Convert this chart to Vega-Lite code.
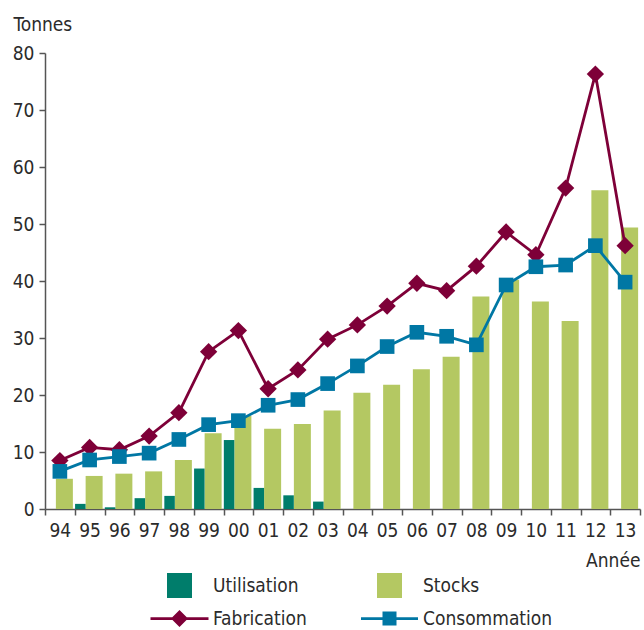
{
  "$schema": "https://vega.github.io/schema/vega-lite/v6.json",
  "width": 595,
  "height": 456,
  "autosize": {"type": "none"},
  "padding": {"left": 45, "top": 53, "right": 4, "bottom": 121},
  "background": "white",
  "config": {
    "view": {"stroke": null},
    "font": "DejaVu Sans Condensed",
    "axis": {
      "labelFont": "DejaVu Sans Condensed",
      "titleFont": "DejaVu Sans Condensed",
      "labelFontSize": 19,
      "titleFontSize": 19,
      "titleFontWeight": "normal",
      "labelColor": "#2b2b2b",
      "titleColor": "#2b2b2b",
      "domainColor": "#555555",
      "tickColor": "#555555",
      "domainWidth": 1.5,
      "tickWidth": 1.5,
      "grid": false
    },
    "legend": {
      "labelFont": "DejaVu Sans Condensed",
      "labelFontSize": 19,
      "labelColor": "#2b2b2b"
    }
  },
  "data": {
    "values": [
      {"year": "94", "series": "Stocks", "value": 5.3},
      {"year": "95", "series": "Stocks", "value": 5.8},
      {"year": "96", "series": "Stocks", "value": 6.2},
      {"year": "97", "series": "Stocks", "value": 6.6},
      {"year": "98", "series": "Stocks", "value": 8.6},
      {"year": "99", "series": "Stocks", "value": 13.3},
      {"year": "00", "series": "Stocks", "value": 16.3},
      {"year": "01", "series": "Stocks", "value": 14.1},
      {"year": "02", "series": "Stocks", "value": 14.9},
      {"year": "03", "series": "Stocks", "value": 17.3},
      {"year": "04", "series": "Stocks", "value": 20.4},
      {"year": "05", "series": "Stocks", "value": 21.8},
      {"year": "06", "series": "Stocks", "value": 24.5},
      {"year": "07", "series": "Stocks", "value": 26.7},
      {"year": "08", "series": "Stocks", "value": 37.3},
      {"year": "09", "series": "Stocks", "value": 40.2},
      {"year": "10", "series": "Stocks", "value": 36.4},
      {"year": "11", "series": "Stocks", "value": 33.0},
      {"year": "12", "series": "Stocks", "value": 55.9},
      {"year": "13", "series": "Stocks", "value": 49.4},
      {"year": "95", "series": "Utilisation", "value": 0.9},
      {"year": "96", "series": "Utilisation", "value": 0.3},
      {"year": "97", "series": "Utilisation", "value": 1.9},
      {"year": "98", "series": "Utilisation", "value": 2.3},
      {"year": "99", "series": "Utilisation", "value": 7.1},
      {"year": "00", "series": "Utilisation", "value": 12.1},
      {"year": "01", "series": "Utilisation", "value": 3.7},
      {"year": "02", "series": "Utilisation", "value": 2.4},
      {"year": "03", "series": "Utilisation", "value": 1.3},
      {"year": "94", "series": "Fabrication", "value": 8.5},
      {"year": "95", "series": "Fabrication", "value": 10.8},
      {"year": "96", "series": "Fabrication", "value": 10.4},
      {"year": "97", "series": "Fabrication", "value": 12.8},
      {"year": "98", "series": "Fabrication", "value": 16.9},
      {"year": "99", "series": "Fabrication", "value": 27.6},
      {"year": "00", "series": "Fabrication", "value": 31.3},
      {"year": "01", "series": "Fabrication", "value": 21.1},
      {"year": "02", "series": "Fabrication", "value": 24.4},
      {"year": "03", "series": "Fabrication", "value": 29.8},
      {"year": "04", "series": "Fabrication", "value": 32.3},
      {"year": "05", "series": "Fabrication", "value": 35.6},
      {"year": "06", "series": "Fabrication", "value": 39.6},
      {"year": "07", "series": "Fabrication", "value": 38.3},
      {"year": "08", "series": "Fabrication", "value": 42.6},
      {"year": "09", "series": "Fabrication", "value": 48.6},
      {"year": "10", "series": "Fabrication", "value": 44.6},
      {"year": "11", "series": "Fabrication", "value": 56.3},
      {"year": "12", "series": "Fabrication", "value": 76.3},
      {"year": "13", "series": "Fabrication", "value": 46.2},
      {"year": "94", "series": "Consommation", "value": 6.6},
      {"year": "95", "series": "Consommation", "value": 8.6},
      {"year": "96", "series": "Consommation", "value": 9.2},
      {"year": "97", "series": "Consommation", "value": 9.8},
      {"year": "98", "series": "Consommation", "value": 12.2},
      {"year": "99", "series": "Consommation", "value": 14.8},
      {"year": "00", "series": "Consommation", "value": 15.5},
      {"year": "01", "series": "Consommation", "value": 18.2},
      {"year": "02", "series": "Consommation", "value": 19.2},
      {"year": "03", "series": "Consommation", "value": 22.0},
      {"year": "04", "series": "Consommation", "value": 25.1},
      {"year": "05", "series": "Consommation", "value": 28.5},
      {"year": "06", "series": "Consommation", "value": 31.0},
      {"year": "07", "series": "Consommation", "value": 30.3},
      {"year": "08", "series": "Consommation", "value": 28.8},
      {"year": "09", "series": "Consommation", "value": 39.3},
      {"year": "10", "series": "Consommation", "value": 42.5},
      {"year": "11", "series": "Consommation", "value": 42.8},
      {"year": "12", "series": "Consommation", "value": 46.2},
      {"year": "13", "series": "Consommation", "value": 39.8}
    ]
  },
  "encoding": {
    "x": {
      "field": "year",
      "type": "nominal",
      "scale": {
        "type": "band",
        "domain": ["94","95","96","97","98","99","00","01","02","03","04","05","06","07","08","09","10","11","12","13"],
        "paddingInner": 0,
        "paddingOuter": 0
      },
      "axis": {
        "title": "Année",
        "labelAngle": 0,
        "tickBand": "extent",
        "tickSize": 6,
        "labelPadding": 6,
        "titleAlign": "right",
        "titleAnchor": null,
        "titleX": 595,
        "titleY": 57,
        "titleBaseline": "alphabetic"
      }
    },
    "y": {
      "field": "value",
      "type": "quantitative",
      "scale": {"domain": [0, 80], "nice": false},
      "axis": {
        "values": [0, 10, 20, 30, 40, 50, 60, 70, 80],
        "tickSize": 6,
        "labelPadding": 5,
        "title": "Tonnes",
        "titleAngle": 0,
        "titleAlign": "left",
        "titleAnchor": null,
        "titleX": -32,
        "titleY": -23,
        "titleBaseline": "alphabetic"
      }
    },
    "color": {
      "field": "series",
      "type": "nominal",
      "scale": {
        "domain": ["Utilisation", "Stocks", "Fabrication", "Consommation"],
        "range": ["#007d6b", "#b4c862", "#7e0038", "#0077a4"]
      },
      "legend": {
        "title": null,
        "orient": "none",
        "legendX": 122,
        "legendY": 520,
        "direction": "horizontal",
        "columns": 2,
        "columnPadding": 54,
        "rowPadding": 8,
        "padding": 0,
        "symbolSize": 625,
        "symbolType": "square",
        "symbolStrokeWidth": 0,
        "symbolOpacity": 1,
        "labelOffset": 21,
        "encode": {
          "symbols": {
            "update": {
              "shape": {"signal": "datum.value === 'Fabrication' ? 'M-2.32,-0.11H2.32V0.11H-2.32Z M0,-0.68L0.68,0L0,0.68L-0.68,0Z' : datum.value === 'Consommation' ? 'M-2.28,-0.11H2.28V0.11H-2.28Z M-0.56,-0.56H0.56V0.56H-0.56Z' : 'square'"},
              "fill": {"scale": "color", "field": "value"},
              "strokeWidth": {"value": 0},
              "opacity": {"value": 1}
            }
          }
        }
      }
    }
  },
  "layer": [
    {
      "transform": [{"filter": "datum.series === 'Stocks'"}],
      "mark": {"type": "bar", "width": 17, "xOffset": 4.5}
    },
    {
      "transform": [{"filter": "datum.series === 'Utilisation'"}],
      "mark": {"type": "bar", "width": 10.5, "xOffset": -9.3}
    },
    {
      "transform": [{"filter": "datum.series === 'Fabrication' || datum.series === 'Consommation'"}],
      "mark": {"type": "line", "strokeWidth": 2.8}
    },
    {
      "transform": [{"filter": "datum.series === 'Fabrication'"}],
      "mark": {"type": "point", "shape": "diamond", "size": 300, "filled": true, "opacity": 1}
    },
    {
      "transform": [{"filter": "datum.series === 'Consommation'"}],
      "mark": {"type": "point", "shape": "square", "size": 215, "filled": true, "opacity": 1}
    }
  ]
}
